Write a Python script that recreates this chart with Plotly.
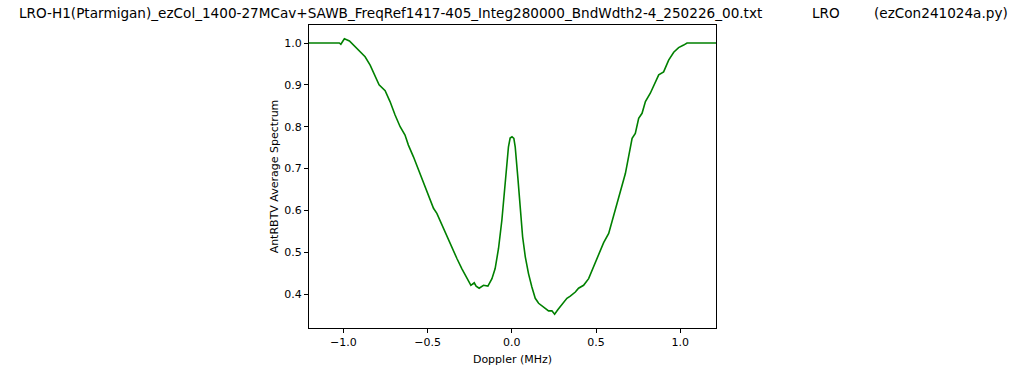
import plotly.graph_objects as go

doppler_mhz = [-1.204, -1.024, -1.015, -0.994, -0.964, -0.930, -0.901, -0.871, -0.841, -0.812,
               -0.788, -0.752, -0.723, -0.693, -0.663, -0.634, -0.614, -0.584, -0.554, -0.525,
               -0.495, -0.465, -0.445, -0.415, -0.386, -0.356, -0.326, -0.297, -0.267, -0.243,
               -0.223, -0.212, -0.194, -0.168, -0.142, -0.118, -0.099, -0.079, -0.059, -0.039,
               -0.020, -0.010, 0.001, 0.012, 0.020, 0.036, 0.050, 0.064, 0.080, 0.099,
               0.119, 0.139, 0.159, 0.188, 0.218, 0.238, 0.254, 0.274, 0.298, 0.327,
               0.347, 0.377, 0.396, 0.426, 0.456, 0.485, 0.506, 0.525, 0.545, 0.575,
               0.595, 0.614, 0.634, 0.654, 0.674, 0.693, 0.714, 0.733, 0.753, 0.773,
               0.793, 0.822, 0.852, 0.872, 0.901, 0.931, 0.961, 0.990, 1.020, 1.040, 1.212]
spectrum = [1.000, 1.000, 0.997, 1.010, 1.005, 0.991, 0.979, 0.967, 0.947, 0.919,
            0.900, 0.886, 0.860, 0.828, 0.800, 0.780, 0.756, 0.728, 0.696, 0.668,
            0.633, 0.605, 0.593, 0.565, 0.537, 0.509, 0.485, 0.461, 0.440, 0.421,
            0.427, 0.419, 0.414, 0.421, 0.419, 0.437, 0.461, 0.509, 0.577, 0.672,
            0.752, 0.773, 0.776, 0.772, 0.752, 0.677, 0.601, 0.537, 0.489, 0.449,
            0.417, 0.390, 0.378, 0.368, 0.360, 0.360, 0.352, 0.363, 0.374, 0.390,
            0.395, 0.405, 0.414, 0.421, 0.437, 0.465, 0.481, 0.501, 0.523, 0.545,
            0.573, 0.605, 0.633, 0.661, 0.688, 0.728, 0.772, 0.784, 0.820, 0.832,
            0.860, 0.880, 0.904, 0.924, 0.931, 0.959, 0.978, 0.989, 0.995, 1.000, 1.000]

x_tickvals = [-1.0, -0.5, 0.0, 0.5, 1.0]
x_ticktext = ["\u22121.0", "\u22120.5", "0.0", "0.5", "1.0"]
y_tickvals = [0.4, 0.5, 0.6, 0.7, 0.8, 0.9, 1.0]
y_ticktext = ["0.4", "0.5", "0.6", "0.7", "0.8", "0.9", "1.0"]

title_main = "LRO-H1(Ptarmigan)_ezCol_1400-27MCav+SAWB_FreqRef1417-405_Integ280000_BndWdth2-4_250226_00.txt"
title_mid = "LRO"
title_right = "(ezCon241024a.py)"

W, H = 1024, 372
plot_left, plot_right = 309, 716
plot_top, plot_bottom = 25, 328
pw = plot_right - plot_left
ph = plot_bottom - plot_top


def px_x(px):
    return (px - plot_left) / pw


def px_y(py):
    return (plot_bottom - py) / ph


fig = go.Figure()
fig.add_trace(go.Scatter(x=doppler_mhz, y=spectrum, mode="lines",
                         line=dict(color="#008000", width=1.6), showlegend=False))

title_font = dict(size=13.6)
fig.update_layout(
    width=W, height=H,
    margin=dict(l=plot_left, r=W - plot_right, t=plot_top, b=H - plot_bottom, pad=0,
                autoexpand=False),
    paper_bgcolor="white", plot_bgcolor="white",
    font=dict(family="DejaVu Sans", size=11, color="#000000"),
    xaxis=dict(range=[-1.204, 1.212], tickvals=x_tickvals, ticktext=x_ticktext,
               showgrid=False, zeroline=False, showline=True, mirror=True,
               linecolor="#000000", linewidth=1, ticks="outside", ticklen=4,
               tickcolor="#000000", tickfont=dict(size=11), automargin=False,
               title=dict(text="Doppler (MHz)", font=dict(size=11), standoff=7)),
    yaxis=dict(range=[0.319, 1.043], tickvals=y_tickvals, ticktext=y_ticktext,
               showgrid=False, zeroline=False, showline=True, mirror=True,
               linecolor="#000000", linewidth=1, ticks="outside", ticklen=4,
               tickcolor="#000000", tickfont=dict(size=11), automargin=False,
               title=dict(text="AntRBTV Average Spectrum", font=dict(size=11), standoff=3)),
    annotations=[
        dict(text=title_main, xref="paper", yref="paper", x=px_x(16.5), y=px_y(13),
             showarrow=False, xanchor="left", yanchor="middle", font=title_font),
        dict(text=title_mid, xref="paper", yref="paper", x=px_x(826), y=px_y(13),
             showarrow=False, xanchor="center", yanchor="middle", font=title_font),
        dict(text=title_right, xref="paper", yref="paper", x=px_x(1010), y=px_y(13),
             showarrow=False, xanchor="right", yanchor="middle", font=title_font),
    ],
)

# remove the default 8px body margin so the figure fills the window exactly
fig.write_html("out.html", config={"displayModeBar": False},
               post_script="document.body.style.margin='0';document.body.style.overflow='hidden';")
